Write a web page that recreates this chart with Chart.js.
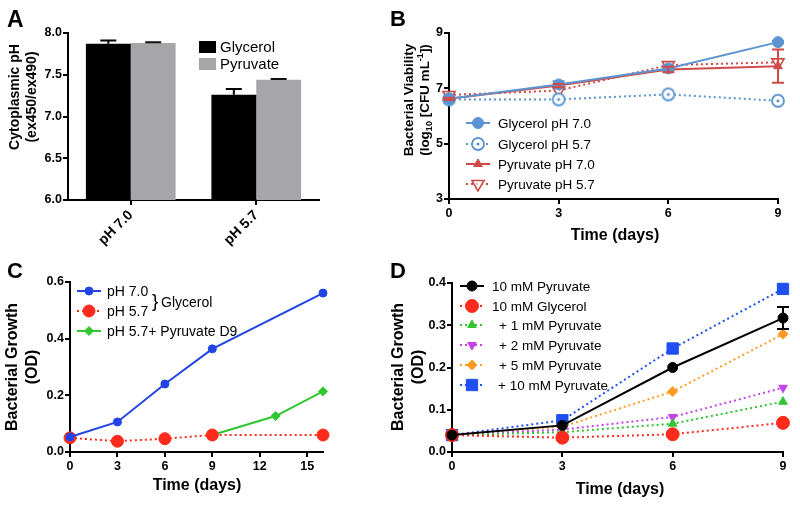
<!DOCTYPE html>
<html><head><meta charset="utf-8">
<script src="https://cdn.jsdelivr.net/npm/chart.js@4"></script>
<style>
html,body{margin:0;padding:0;background:#fff;width:800px;height:506px;overflow:hidden}
.p{position:absolute}
canvas{display:block}
</style></head><body>
<div class="p" style="left:0;top:0"><canvas id="cA" width="400" height="253"></canvas></div>
<div class="p" style="left:390px;top:0"><canvas id="cB" width="410" height="253"></canvas></div>
<div class="p" style="left:0;top:253px"><canvas id="cC" width="400" height="253"></canvas></div>
<div class="p" style="left:390px;top:253px"><canvas id="cD" width="410" height="253"></canvas></div>
<script>
// ---------- DATA ----------
// Panel A
const aCategories = ['pH 7.0', 'pH 5.7'];
const aGlycerol = [7.87, 7.26];
const aGlycerolErr = [0.04, 0.07];
const aPyruvate = [7.88, 7.44];
const aPyruvateErr = [0.01, 0.01];
const aYTicks = ['6.0', '6.5', '7.0', '7.5', '8.0'];

// Panel B
const bDays = [0, 3, 6, 9];
const bGlycerol70 = [6.62, 7.14, 7.72, 8.67];
const bGlycerol70Err = [0.05, 0.12, 0.08, 0.04];
const bGlycerol57 = [6.6, 6.6, 6.78, 6.55];
const bPyruvate70 = [6.62, 7.1, 7.68, 7.8];
const bPyruvate70Err = [0.04, 0.06, 0.1, 0.6];
const bPyruvate57 = [6.76, 6.92, 7.84, 7.94];
const bXTicks = ['0', '3', '6', '9'];
const bYTicks = ['3', '5', '7', '9'];

// Panel C
const cDays = [0, 3, 6, 9, 16];
const cPH70 = [0.053, 0.106, 0.24, 0.364, 0.561];
const cPH57 = [0.05, 0.038, 0.047, 0.06, 0.06];
const cPyrDays = [9, 13, 16];
const cPH57Pyr = [0.06, 0.127, 0.214];
const cXTicks = ['0', '3', '6', '9', '12', '15'];
const cYTicks = ['0.0', '0.2', '0.4', '0.6'];

// Panel D
const dDays = [0, 3, 6, 9];
const dPyruvate10 = [0.04, 0.063, 0.2, 0.317];
const dPyruvate10Err = [0, 0, 0, 0.026];
const dGlycerol10 = [0.04, 0.034, 0.042, 0.069];
const dPlus1 = [0.04, 0.047, 0.067, 0.119];
const dPlus2 = [0.04, 0.053, 0.083, 0.152];
const dPlus5 = [0.04, 0.06, 0.143, 0.279];
const dPlus10 = [0.04, 0.075, 0.245, 0.386];
const dXTicks = ['0', '3', '6', '9'];
const dYTicks = ['0.0', '0.1', '0.2', '0.3', '0.4'];

// ---------- STYLE HELPERS ----------
const FONT = 'Arial, "Liberation Sans", Helvetica, sans-serif';
Chart.defaults.font.family = FONT;
Chart.defaults.color = '#000';
Chart.defaults.animation = false;

function axisCommon(tickArr, fitProp, fitVal, extra) {
  const ax = {
    afterBuildTicks: s => { s.ticks = tickArr.map(t => ({ value: parseFloat(t) })); },
    ticks: { font: { weight: 'bold', size: 12.5 }, color: '#000', padding: fitProp === 'width' ? 1 : 2,
             callback: (v, i) => tickArr[i] },
    grid: { display: true, drawOnChartArea: false, drawTicks: true, tickLength: 5, color: '#000', lineWidth: 2 },
    border: { display: true, color: '#000', width: 2 },
    afterFit: s => { s[fitProp] = fitVal; }
  };
  return Object.assign(ax, extra || {});
}

function lineDs(label, xs, ys, color, o) {
  return Object.assign({
    label: label,
    data: xs.map((x, i) => ({ x: x, y: ys[i] })),
    borderColor: color, backgroundColor: color,
    pointBackgroundColor: color, pointBorderColor: color,
    borderWidth: 2, pointBorderWidth: 1, pointRadius: 5, pointStyle: 'circle',
    pointRotation: 0, borderDash: [], clip: false, tension: 0
  }, o || {});
}

function drawPt(ctx, ds, x, y) {
  ctx.save();
  ctx.fillStyle = ds.pointBackgroundColor;
  ctx.strokeStyle = ds.pointBorderColor;
  ctx.lineWidth = ds.pointBorderWidth;
  Chart.helpers.drawPoint(ctx, { pointStyle: ds.pointStyle, radius: ds.pointRadius,
    rotation: ds.pointRotation || 0, borderWidth: ds.pointBorderWidth }, x, y);
  ctx.restore();
}

function drawRotLine(ctx, segs, cx, cy, size) {
  ctx.save();
  ctx.translate(cx, cy);
  ctx.rotate(-Math.PI / 2);
  ctx.textBaseline = 'middle';
  ctx.fillStyle = '#000';
  const norm = 'bold ' + size + 'px ' + FONT;
  const small = 'bold ' + Math.round(size * 0.68) + 'px ' + FONT;
  let total = 0;
  segs.forEach(s => { ctx.font = s[1] ? small : norm; total += ctx.measureText(s[0]).width; });
  let x = -total / 2;
  ctx.textAlign = 'left';
  segs.forEach(s => {
    ctx.font = s[1] ? small : norm;
    const dy = s[1] === 'sub' ? size * 0.3 : (s[1] === 'sup' ? -size * 0.35 : 0);
    ctx.fillText(s[0], x, dy);
    x += ctx.measureText(s[0]).width;
  });
  ctx.restore();
}

function deco(cfg) {
  return {
    id: 'deco',
    afterDatasetsDraw(chart) {
      const ctx = chart.ctx;
      (cfg.errs || []).forEach(e => {
        const meta = chart.getDatasetMeta(e.ds);
        const ys = chart.scales.y;
        ctx.save();
        ctx.strokeStyle = e.color; ctx.lineWidth = 2;
        meta.data.forEach((el, i) => {
          const err = e.err[i];
          if (!err) return;
          const v = e.vals[i];
          const x = el.x;
          const yTop = ys.getPixelForValue(v + err);
          const yBot = e.up ? ys.getPixelForValue(v) : ys.getPixelForValue(v - err);
          ctx.beginPath();
          ctx.moveTo(x, yTop); ctx.lineTo(x, yBot);
          ctx.moveTo(x - e.cap, yTop); ctx.lineTo(x + e.cap, yTop);
          if (!e.up) { ctx.moveTo(x - e.cap, yBot); ctx.lineTo(x + e.cap, yBot); }
          ctx.stroke();
        });
        ctx.restore();
      });
    },
    afterDraw(chart) {
      const ctx = chart.ctx;
      ctx.save();
      ctx.font = 'bold ' + cfg.letter.size + 'px ' + FONT;
      ctx.fillStyle = '#000'; ctx.textAlign = 'left'; ctx.textBaseline = 'alphabetic';
      ctx.fillText(cfg.letter.t, cfg.letter.x, cfg.letter.y);
      cfg.yTitle.lines.forEach((segs, i) => drawRotLine(ctx, segs, cfg.yTitle.xs[i], cfg.yTitle.cy, cfg.yTitle.size));
      if (cfg.xTitle) {
        ctx.font = 'bold 16px ' + FONT;
        ctx.textAlign = 'center'; ctx.textBaseline = 'middle';
        ctx.fillText(cfg.xTitle.t, cfg.xTitle.x, cfg.xTitle.y);
      }
      if (cfg.legend) {
        const L = cfg.legend;
        L.items.forEach((it, k) => {
          const ds = chart.data.datasets[k];
          const y = L.ys[k];
          if (L.box) {
            ctx.fillStyle = ds.backgroundColor;
            ctx.fillRect(L.x1, y - 6, L.x2 - L.x1, 12);
          } else {
            ctx.save();
            ctx.strokeStyle = ds.borderColor; ctx.lineWidth = ds.borderWidth;
            ctx.setLineDash(ds.borderDash || []);
            ctx.beginPath(); ctx.moveTo(L.x1, y); ctx.lineTo(L.x2, y); ctx.stroke();
            ctx.restore();
            drawPt(ctx, ds, (L.x1 + L.x2) / 2, y);
          }
          ctx.fillStyle = '#000';
          ctx.font = L.size + 'px ' + FONT;
          ctx.textAlign = 'left'; ctx.textBaseline = 'middle';
          ctx.fillText(ds.label, L.txs[k], y + 1);
        });
        if (L.extra) L.extra(ctx);
      }
      ctx.restore();
    }
  };
}

// ---------- PANEL A ----------
new Chart(document.getElementById('cA'), {
  type: 'bar',
  data: {
    labels: aCategories,
    datasets: [
      { label: 'Glycerol', data: aGlycerol, backgroundColor: '#000', borderWidth: 0, categoryPercentage: 0.715, barPercentage: 1 },
      { label: 'Pyruvate', data: aPyruvate, backgroundColor: '#a6a6a9', borderWidth: 0, categoryPercentage: 0.715, barPercentage: 1 }
    ]
  },
  options: {
    responsive: false, devicePixelRatio: 1,
    layout: { padding: { left: 0, top: 33, right: 81, bottom: 0 } },
    plugins: { legend: { display: false }, tooltip: { enabled: false } },
    scales: {
      x: {
        type: 'category', offset: true,
        ticks: { font: { weight: 'bold', size: 14 }, color: '#000', minRotation: 45, maxRotation: 45, padding: 2 },
        grid: { display: true, offset: false, drawOnChartArea: false, drawTicks: true, tickLength: 5, color: '#000', lineWidth: 2 },
        border: { display: true, color: '#000', width: 2 },
        afterFit: s => { s.height = 53; }
      },
      y: axisCommon(aYTicks, 'width', 68, { min: 6, max: 8 })
    }
  },
  plugins: [deco({
    letter: { t: 'A', x: 7, y: 27, size: 23 },
    yTitle: { lines: [[['Cytoplasmic pH', 0]], [['(ex450/ex490)', 0]]], xs: [15, 32], cy: 97, size: 14 },
    errs: [
      { ds: 0, vals: aGlycerol, err: aGlycerolErr, color: '#000', cap: 8, up: true },
      { ds: 1, vals: aPyruvate, err: aPyruvateErr, color: '#111', cap: 8, up: true }
    ],
    legend: { box: true, items: [0, 1], ys: [47, 64], x1: 199, x2: 216, txs: [220, 220], size: 15 }
  })]
});

// ---------- PANEL B ----------
const bBlue = '#5b94d1', bRed = '#cf4b48';
const ringImg = (function () {
  const c = document.createElement('canvas'); c.width = 16; c.height = 16;
  const g = c.getContext('2d');
  g.fillStyle = '#fff'; g.strokeStyle = bBlue; g.lineWidth = 1.8;
  g.beginPath(); g.arc(8, 8, 6, 0, Math.PI * 2); g.fill(); g.stroke();
  g.fillStyle = bBlue; g.beginPath(); g.arc(8, 8, 1.6, 0, Math.PI * 2); g.fill();
  return c;
})();
new Chart(document.getElementById('cB'), {
  type: 'line',
  data: {
    datasets: [
      lineDs('Glycerol pH 7.0', bDays, bGlycerol70, bBlue, { pointRadius: 5.5 }),
      lineDs('Glycerol pH 5.7', bDays, bGlycerol57, bBlue, { pointStyle: ringImg, borderDash: [2, 3], pointRadius: 6 }),
      lineDs('Pyruvate pH 7.0', bDays, bPyruvate70, bRed, { pointStyle: 'triangle', pointRadius: 5 }),
      lineDs('Pyruvate pH 5.7', bDays, bPyruvate57, bRed, { pointStyle: 'triangle', pointRotation: 180, pointRadius: 7, pointBackgroundColor: 'rgba(255,255,255,0.6)', pointBorderWidth: 1.6, borderDash: [2, 3] })
    ]
  },
  options: {
    responsive: false, devicePixelRatio: 1,
    layout: { padding: { left: 0, top: 33, right: 22, bottom: 0 } },
    plugins: { legend: { display: false }, tooltip: { enabled: false } },
    scales: {
      x: axisCommon(bXTicks, 'height', 54, { type: 'linear', min: 0, max: 9 }),
      y: axisCommon(bYTicks, 'width', 59, { min: 3, max: 9 })
    }
  },
  plugins: [deco({
    letter: { t: 'B', x: 0, y: 26, size: 22 },
    yTitle: { lines: [[['Bacterial Viability', 0]], [['(log', 0], ['10', 'sub'], [' [CFU mL', 0], ['-1', 'sup'], ['])', 0]]], xs: [19, 35], cy: 100, size: 13.5 },
    xTitle: { t: 'Time (days)', x: 225, y: 236 },
    errs: [
      { ds: 0, vals: bGlycerol70, err: bGlycerol70Err, color: bBlue, cap: 6 },
      { ds: 2, vals: bPyruvate70, err: bPyruvate70Err, color: bRed, cap: 6 }
    ],
    legend: { items: [0, 1, 2, 3], ys: [123, 144, 164, 184], x1: 76, x2: 100, txs: [108, 108, 108, 108], size: 13.5 }
  })]
});

// ---------- PANEL C ----------
const cBlue = '#2243e6', cRed = '#ff2b1c', cGreen = '#2fc72f';
new Chart(document.getElementById('cC'), {
  type: 'line',
  data: {
    datasets: [
      lineDs('pH 7.0', cDays, cPH70, cBlue, { pointRadius: 4 }),
      lineDs('pH 5.7', cDays, cPH57, cRed, { pointRadius: 6, borderDash: [2, 3] }),
      lineDs('pH 5.7+ Pyruvate D9', cPyrDays, cPH57Pyr, cGreen, { pointStyle: 'rectRot', pointRadius: 4.5 })
    ]
  },
  options: {
    responsive: false, devicePixelRatio: 1,
    layout: { padding: { left: 0, top: 29, right: 77, bottom: 0 } },
    plugins: { legend: { display: false }, tooltip: { enabled: false } },
    scales: {
      x: axisCommon(cXTicks, 'height', 54, { type: 'linear', min: 0, max: 16 }),
      y: axisCommon(cYTicks, 'width', 70, { min: 0, max: 0.6 })
    }
  },
  plugins: [deco({
    letter: { t: 'C', x: 7, y: 25, size: 22 },
    yTitle: { lines: [[['Bacterial Growth', 0]], [['(OD)', 0]]], xs: [13, 33], cy: 114, size: 16 },
    xTitle: { t: 'Time (days)', x: 197, y: 233 },
    legend: { items: [0, 1, 2], ys: [38, 58, 78], x1: 77, x2: 101, txs: [107, 107, 107], size: 14,
      extra: ctx => {
        ctx.fillStyle = '#000'; ctx.textBaseline = 'middle'; ctx.textAlign = 'left';
        ctx.font = '19px ' + FONT; ctx.fillText('}', 152, 49);
        ctx.font = '14px ' + FONT; ctx.fillText('Glycerol', 161, 50);
      } }
  })]
});

// ---------- PANEL D ----------
const dRed = '#ff2b1c', dGreen = '#33c433', dPurple = '#c443ea', dOrange = '#ff9b24', dBlue = '#1f4ff0';
new Chart(document.getElementById('cD'), {
  type: 'line',
  data: {
    datasets: [
      lineDs('10 mM Pyruvate', dDays, dPyruvate10, '#000', { pointRadius: 5 }),
      lineDs('10 mM Glycerol', dDays, dGlycerol10, dRed, { pointRadius: 6.5, borderDash: [2, 3] }),
      lineDs('+ 1 mM Pyruvate', dDays, dPlus1, dGreen, { pointStyle: 'triangle', pointRadius: 5, borderDash: [2, 3] }),
      lineDs('+ 2 mM Pyruvate', dDays, dPlus2, dPurple, { pointStyle: 'triangle', pointRotation: 180, pointRadius: 5, borderDash: [2, 3] }),
      lineDs('+ 5 mM Pyruvate', dDays, dPlus5, dOrange, { pointStyle: 'rectRot', pointRadius: 5, borderDash: [2, 3] }),
      lineDs('+ 10 mM Pyruvate', dDays, dPlus10, dBlue, { pointStyle: 'rect', pointRadius: 8, borderDash: [2, 3] })
    ]
  },
  options: {
    responsive: false, devicePixelRatio: 1,
    layout: { padding: { left: 0, top: 30, right: 17, bottom: 0 } },
    plugins: { legend: { display: false }, tooltip: { enabled: false } },
    scales: {
      x: axisCommon(dXTicks, 'height', 54, { type: 'linear', min: 0, max: 9 }),
      y: axisCommon(dYTicks, 'width', 62, { min: 0, max: 0.4 })
    }
  },
  plugins: [deco({
    letter: { t: 'D', x: 0, y: 25, size: 22 },
    yTitle: { lines: [[['Bacterial Growth', 0]], [['(OD)', 0]]], xs: [9, 29], cy: 114, size: 16 },
    xTitle: { t: 'Time (days)', x: 230, y: 237 },
    errs: [{ ds: 0, vals: dPyruvate10, err: dPyruvate10Err, color: '#000', cap: 6 }],
    legend: { items: [0, 1, 2, 3, 4, 5], ys: [33, 53, 72, 92, 112, 132], x1: 70, x2: 94, txs: [102, 102, 109, 109, 109, 108], size: 13.5 }
  })]
});
</script>
</body></html>
